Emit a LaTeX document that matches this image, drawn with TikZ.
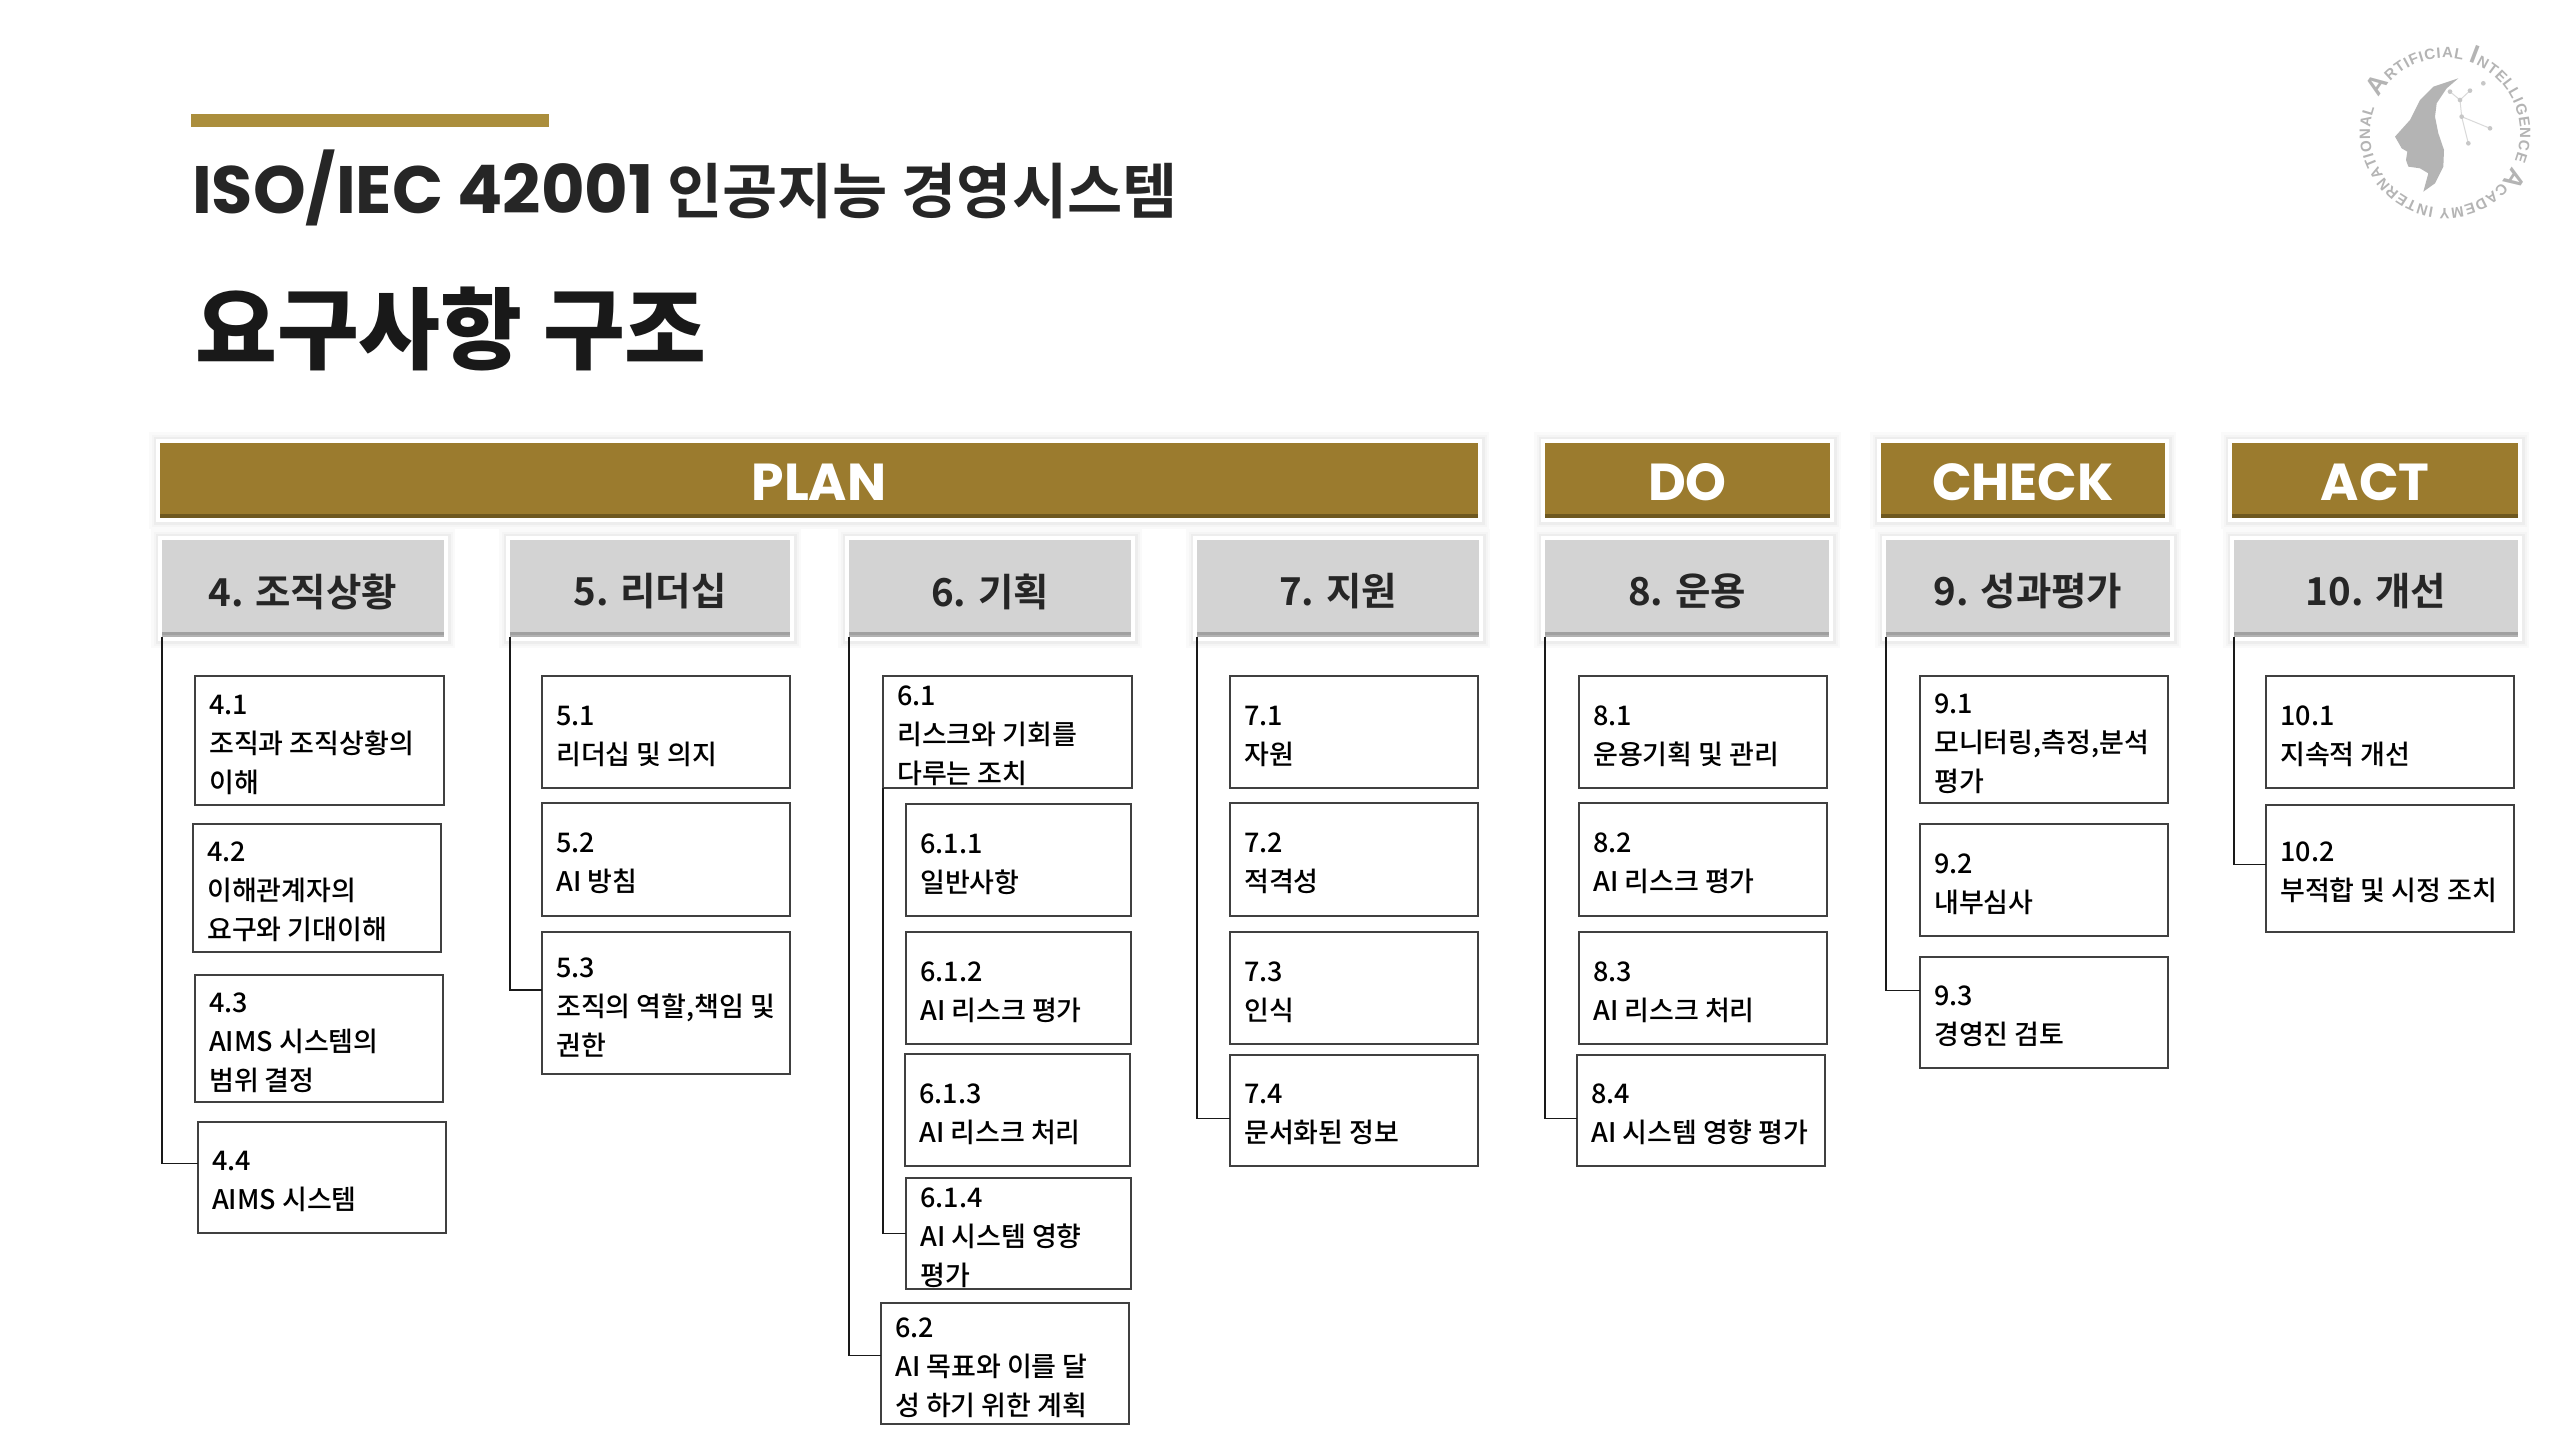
\documentclass[tikz,border=0pt]{standalone}
\usepackage{fontspec}
\usetikzlibrary{decorations.text}
\setmainfont{Noto Sans CJK KR Medium}[BoldFont=Noto Sans CJK KR Bold]
\newfontfamily\krblack{Noto Sans CJK KR Black}
\newfontfamily\krbold{Noto Sans CJK KR Bold}
\newfontfamily\popb{Poppins}[BoldFont=Poppins Bold]
\newfontfamily\logofont{Liberation Sans}[BoldFont=Liberation Sans Bold]
\newcommand{\lgbig}{\logofont\bfseries\fontsize{26}{26}\selectfont}
\newcommand{\lgsm}{\logofont\bfseries\fontsize{15}{15}\selectfont}
\newcommand{\lowered}[2]{\raisebox{-#1}[\height][\depth]{#2}}
\definecolor{gold}{HTML}{9B7B2E}
\definecolor{golddark}{HTML}{6E5820}
\definecolor{accent}{HTML}{AB8E3C}
\definecolor{headgray}{HTML}{D3D3D3}
\definecolor{headdark}{HTML}{A0A0A0}
\definecolor{logogray}{HTML}{B4B4B4}
\tikzset{
  glow/.style={preaction={draw=black!2,line width=22pt},preaction={draw=black!4,line width=17pt},preaction={draw=black!7,line width=13pt},preaction={draw=white,line width=8pt}},
  barbox/.style={glow,fill=gold,inner sep=0pt,outer sep=0pt,text=white,font=\popb\bfseries\fontsize{52}{58}\selectfont,
    path picture={\fill[golddark] ([yshift=4pt]path picture bounding box.south west) rectangle (path picture bounding box.south east);}},
  headbox/.style={glow,fill=headgray,inner sep=0pt,outer sep=0pt,text=black!85,font=\krbold\fontsize{38.5}{46}\selectfont,
    path picture={\fill[headdark] ([yshift=5pt]path picture bounding box.south west) rectangle (path picture bounding box.south east);
      \fill[black!30] ([yshift=2pt]path picture bounding box.south west) rectangle (path picture bounding box.south east);}},
  itembox/.style={draw=black!75,line width=1.6pt,fill=white,inner sep=0pt,outer sep=0pt},
  itemtext/.style={anchor=west,align=left,inner sep=0pt,text=black,font=\fontsize{27}{39}\selectfont},
  trunk/.style={draw=black!90,line width=1.8pt},
}
\newcommand{\hdr}[6]{\node[headbox,minimum width={(#4-#2)*1pt},minimum height={(#5-#3)*1pt}] (#1) at ({(#2+#4)/2},540+48.5) {\lowered{3pt}{#6}};}
\newcommand{\itm}[6]{\node[itembox,minimum width={(#4-#2)*1pt},minimum height={(#5-#3)*1pt}] (#1) at ({(#2+#4)/2},{(#3+#5)/2}) {};
  \node[itemtext] (#1t) at ([xshift=14pt,yshift=-4pt]#1.west) {#6};}
\begin{document}
\begin{tikzpicture}[x=1pt,y=-1pt]
\useasboundingbox (0,0) rectangle (2560,1440);
\fill[white] (0,0) rectangle (2560,1440);
% heading
\fill[accent] (191,114) rectangle (549,127);
\node[anchor=west,inner sep=0pt,font=\krbold\fontsize{60}{70}\selectfont,text=black!85] (title1) at (192,188) {{\popb\bfseries\fontsize{67}{70}\selectfont ISO/IEC 42001} 인공지능 경영시스템};
\node[anchor=west,inner sep=0pt,font=\krblack\fontsize{89}{100}\selectfont,text=black!90] (title2) at (195,329) {요구사항 구조};
% phase bars
\node[barbox,minimum width=1318pt,minimum height=75pt] (plan) at (819,480.5) {\lowered{2pt}{PLAN}};
\node[barbox,minimum width=285pt,minimum height=75pt] (do) at (1687.5,480.5) {\lowered{2pt}{DO}};
\node[barbox,minimum width=284pt,minimum height=75pt] (check) at (2023,480.5) {\lowered{2pt}{CHECK}};
\node[barbox,minimum width=286pt,minimum height=75pt] (act) at (2375,480.5) {\lowered{2pt}{ACT}};
% clause headers
\hdr{g4}{162}{540}{444}{637}{4. 조직상황}
\hdr{g5}{510}{540}{790}{637}{5. 리더십}
\hdr{g6}{849}{540}{1131}{637}{6. 기획}
\hdr{g7}{1197}{540}{1479}{637}{7. 지원}
\hdr{g8}{1545}{540}{1829}{637}{8. 운용}
\hdr{g9}{1886}{540}{2170}{637}{9. 성과평가}
\hdr{g10}{2234}{540}{2518}{637}{10. 개선}
% items
\itm{b41}{195}{676}{444}{805}{4.1\\조직과 조직상황의\\이해}
\itm{b42}{193}{824}{441}{952}{4.2\\이해관계자의\\요구와 기대이해}
\itm{b43}{195}{975}{443}{1102}{4.3\\AIMS 시스템의\\범위 결정}
\itm{b44}{198}{1122}{446}{1233}{4.4\\AIMS 시스템}
\itm{b51}{542}{676}{790}{788}{5.1\\리더십 및 의지}
\itm{b52}{542}{803}{790}{916}{5.2\\AI 방침}
\itm{b53}{542}{932}{790}{1074}{5.3\\조직의 역할,책임 및\\권한}
\itm{b61}{883}{676}{1132}{788}{6.1\\리스크와 기회를\\다루는 조치}
\itm{b611}{906}{804}{1131}{916}{6.1.1\\일반사항}
\itm{b612}{906}{932}{1131}{1044}{6.1.2\\AI 리스크 평가}
\itm{b613}{905}{1054}{1130}{1166}{6.1.3\\AI 리스크 처리}
\itm{b614}{906}{1178}{1131}{1289}{6.1.4\\AI 시스템 영향\\평가}
\itm{b62}{881}{1303}{1129}{1424}{6.2\\AI 목표와 이를 달\\성 하기 위한 계획}
\itm{b71}{1230}{676}{1478}{788}{7.1\\자원}
\itm{b72}{1230}{803}{1478}{916}{7.2\\적격성}
\itm{b73}{1230}{932}{1478}{1044}{7.3\\인식}
\itm{b74}{1230}{1055}{1478}{1166}{7.4\\문서화된 정보}
\itm{b81}{1579}{676}{1827}{788}{8.1\\운용기획 및 관리}
\itm{b82}{1579}{803}{1827}{916}{8.2\\AI 리스크 평가}
\itm{b83}{1579}{932}{1827}{1044}{8.3\\AI 리스크 처리}
\itm{b84}{1577}{1055}{1825}{1166}{8.4\\AI 시스템 영향 평가}
\itm{b91}{1920}{676}{2168}{803}{9.1\\모니터링,측정,분석\\평가}
\itm{b92}{1920}{824}{2168}{936}{9.2\\내부심사}
\itm{b93}{1920}{957}{2168}{1068}{9.3\\경영진 검토}
\itm{b101}{2266}{676}{2514}{788}{10.1\\지속적 개선}
\itm{b102}{2266}{805}{2514}{932}{10.2\\부적합 및 시정 조치}
% connectors
\draw[trunk] (g4.south west) |- ([yshift=14pt]b44.west);
\draw[trunk] (g5.south west) |- ([yshift=13pt]b53.west);
\draw[trunk] (g6.south west) |- ([yshift=8pt]b62.west);
\draw[trunk] (b61.south west) |- (b614.west);
\draw[trunk] (g7.south west) |- ([yshift=-8pt]b74.west);
\draw[trunk] (g8.south west) |- ([yshift=-8pt]b84.west);
\draw[trunk] (g9.south west) |- ([yshift=22pt]b93.west);
\draw[trunk] (g10.south west) |- ([yshift=4pt]b102.west);
% logo
\begin{scope}[shift={(2320,20)},x=0.3333pt,y=-0.3333pt]
\fill[logogray] (415,175) -- (340,200) -- (300,240) -- (270,300) -- (225,350) -- (245,385) -- (262,395) -- (258,420) -- (265,440) -- (300,445) -- (325,460) -- (310,515) -- (345,490) -- (370,440) -- (372,390) -- (355,340) -- (345,290) -- (350,250) -- (380,205) -- cycle;
\draw[black!15,line width=1pt] (450,212) -- (420,240) -- (425,290) -- (510,325) (420,240) -- (390,215) (425,290) -- (445,370);
\foreach \p in {(450,212),(420,240),(425,290),(510,325),(390,215),(445,370),(490,190)} \fill[black!22] \p circle (7);
\end{scope}
\path[decorate,decoration={text along path,text align={fit to path},text color=logogray,
  text={|\lgbig|A|||\lgsm|RTIFICIAL |||\lgbig|I|||\lgsm|NTELLIGENCE |||\lgbig|A|||\lgsm|CADEMY INTERNATIONAL||}}]
  (2445,133) ++(-152:75) arc[start angle=-152,end angle=200,radius=75];
\end{tikzpicture}
\end{document}
